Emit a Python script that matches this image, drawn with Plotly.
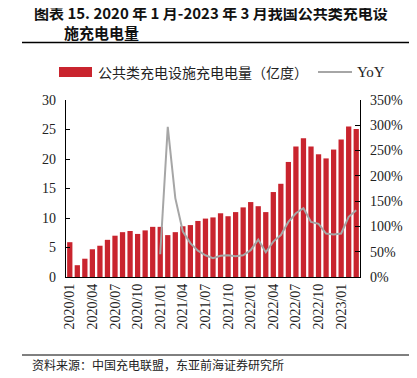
import plotly.graph_objects as go

months = [f"{y}/{m:02d}" for y in (2020, 2021, 2022) for m in range(1, 13)] + ["2023/01", "2023/02", "2023/03"]
tick_labels = ["2020/01", "2020/04", "2020/07", "2020/10", "2021/01", "2021/04", "2021/07",
               "2021/10", "2022/01", "2022/04", "2022/07", "2022/10", "2023/01"]

charge = [5.9, 2.0, 3.1, 4.7, 5.3, 6.3, 7.0, 7.6, 7.8, 7.3, 7.9, 8.5,
          8.5, 7.1, 7.6, 8.6, 8.8, 9.5, 9.9, 10.1, 10.8, 10.3, 11.0, 11.8,
          12.7, 12.0, 11.0, 14.4, 15.8, 19.5, 22.1, 23.5, 22.1, 20.8, 20.1, 21.6,
          23.3, 25.5, 25.1]

yoy = [None] * 12 + [45, 297, 156, 90, 67, 52, 43, 37, 42, 43, 41, 43,
                     53, 74, 49, 70, 83, 109, 126, 136, 109, 105, 86, 84,
                     86, 119, 132]

# page body has an 8px default margin; work in reference pixels and offset
OFF = 8
W, H = 417 - OFF, 378 - OFF
L, R, T, B = 66, 360, 100, 277  # plot area in reference pixels

def xp(px):
    return (px - L) / (R - L)

def yp(py):
    return (B - py) / (B - T)

serif = "Liberation Serif, Times New Roman, serif"
cjk = "Noto Sans CJK SC, sans-serif"

fig = go.Figure()
fig.add_trace(go.Bar(x=months, y=charge, marker_color="#C9242E", marker_line_width=0,
                     name="公共类充电设施充电电量（亿度）", showlegend=False))
fig.add_trace(go.Scatter(x=months, y=yoy, yaxis="y2", mode="lines",
                         line=dict(color="#A6A6A6", width=2), name="YoY", showlegend=False))

fig.update_layout(
    width=W, height=H,
    margin=dict(l=L - OFF, r=417 - R, t=T - OFF, b=378 - B, pad=0),
    plot_bgcolor="white", paper_bgcolor="white",
    bargap=0.3,
    xaxis=dict(type="category", tickmode="array", tickvals=tick_labels, ticktext=tick_labels,
               tickangle=-90, tickfont=dict(family=serif, size=14, color="#222"),
               showline=True, linecolor="black", linewidth=1.2, ticks="", showgrid=False,
               range=[-0.5, len(months) - 0.5]),
    yaxis=dict(range=[0, 30], dtick=5, showline=True, linecolor="black", linewidth=1.2,
               ticks="inside", ticklen=4, tickcolor="black", showgrid=False, zeroline=False,
               tickfont=dict(family=serif, size=14, color="#222"), ticklabelstandoff=6),
    yaxis2=dict(range=[0, 350], dtick=50, overlaying="y", side="right", ticksuffix="%",
                showline=True, linecolor="black", linewidth=1.2, ticks="inside", ticklen=5,
                tickcolor="black", showgrid=False, zeroline=False,
                tickfont=dict(family=serif, size=14, color="#222"), ticklabelstandoff=6),
)

# Title (two lines, second indented)
fig.add_annotation(text="<b>图表 15. 2020 年 1 月-2023 年 3 月我国公共类充电设<br>\u3000\u3000施充电电量</b>",
                   xref="paper", yref="paper", align="left",
                   x=xp(32), y=yp(22.5), xanchor="left", yanchor="middle", showarrow=False,
                   font=dict(family=cjk, size=15, color="#111"))
fig.add_shape(type="line", xref="paper", yref="paper", x0=xp(22), x1=xp(417), y0=yp(42.5), y1=yp(42.5),
              line=dict(color="black", width=1.5))

# Legend
fig.add_shape(type="rect", xref="paper", yref="paper", x0=xp(59), x1=xp(92), y0=yp(67), y1=yp(77),
              fillcolor="#C9242E", line_width=0)
fig.add_annotation(text="公共类充电设施充电电量（亿度）", xref="paper", yref="paper",
                   x=xp(96), y=yp(72), xanchor="left", yanchor="middle", showarrow=False,
                   font=dict(family=cjk, size=14, color="#222"))
fig.add_shape(type="line", xref="paper", yref="paper", x0=xp(318), x1=xp(352), y0=yp(72), y1=yp(72),
              line=dict(color="#A6A6A6", width=2))
fig.add_annotation(text="YoY", xref="paper", yref="paper",
                   x=xp(355), y=yp(72), xanchor="left", yanchor="middle", showarrow=False,
                   font=dict(family=serif, size=15, color="#222"))

# Source
fig.add_shape(type="line", xref="paper", yref="paper", x0=xp(22), x1=xp(417), y0=yp(355), y1=yp(355),
              line=dict(color="black", width=1))
fig.add_annotation(text="资料来源：中国充电联盟，东亚前海证券研究所", xref="paper", yref="paper",
                   x=xp(30), y=yp(364.5), xanchor="left", yanchor="middle", showarrow=False,
                   font=dict(family=cjk, size=12, color="#222"))

fig.write_html("out.html")
